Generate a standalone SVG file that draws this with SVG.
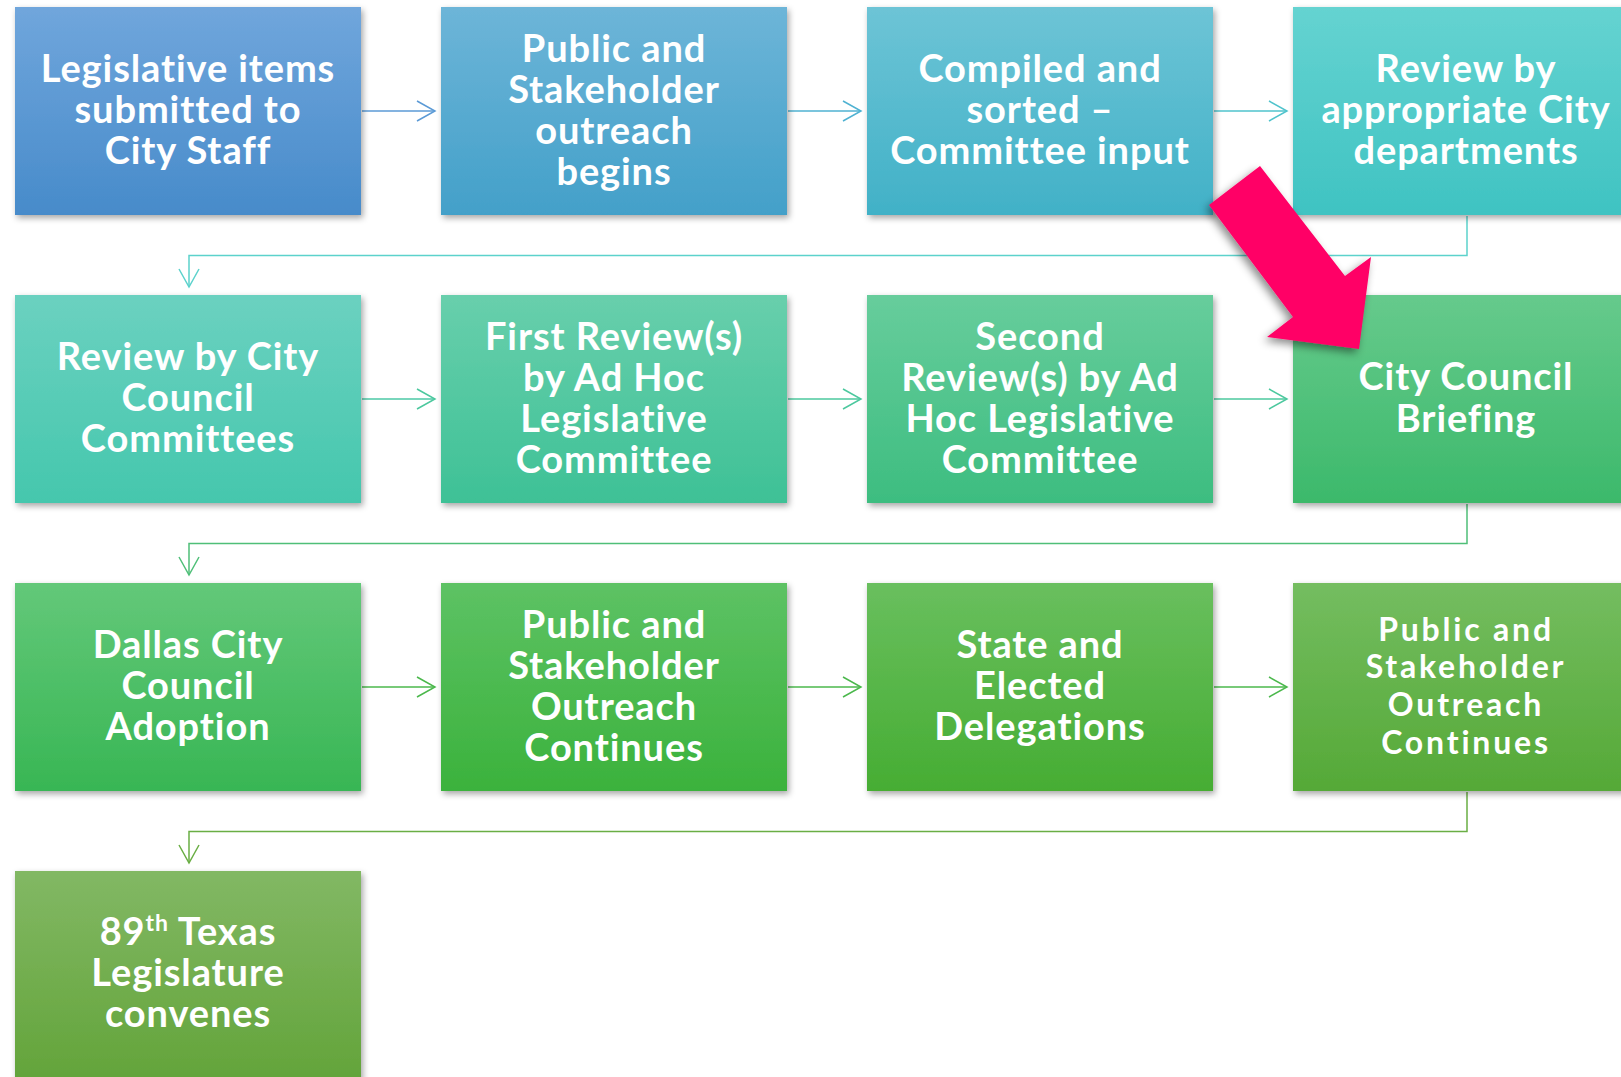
<svg xmlns="http://www.w3.org/2000/svg" width="1621" height="1077" viewBox="0 0 1621 1077">
<style>
.t{font-family:Lato,"Open Sans","DejaVu Sans",sans-serif;font-weight:700;font-size:38px;letter-spacing:0.9px;fill:#fff;text-anchor:middle}
.s{font-size:32px;letter-spacing:2.8px}
.c{fill:none;stroke-width:1.5}
</style>
<defs>
<filter id="sh" x="-10%" y="-10%" width="125%" height="125%"><feDropShadow dx="2" dy="3" stdDeviation="3" flood-color="#000" flood-opacity="0.35"/></filter>
<filter id="ash" x="-20%" y="-20%" width="150%" height="150%"><feDropShadow dx="-3" dy="4" stdDeviation="4" flood-color="#000" flood-opacity="0.45"/></filter>
<linearGradient id="g1" x1="0" y1="0" x2="0" y2="1"><stop offset="0" stop-color="#70a6dc"/><stop offset="1" stop-color="#478bca"/></linearGradient>
<linearGradient id="g2" x1="0" y1="0" x2="0" y2="1"><stop offset="0" stop-color="#6db5d8"/><stop offset="1" stop-color="#43a0c9"/></linearGradient>
<linearGradient id="g3" x1="0" y1="0" x2="0" y2="1"><stop offset="0" stop-color="#6dc4d6"/><stop offset="1" stop-color="#41b1c7"/></linearGradient>
<linearGradient id="g4" x1="0" y1="0" x2="0" y2="1"><stop offset="0" stop-color="#65d3d1"/><stop offset="1" stop-color="#3fc3c2"/></linearGradient>
<linearGradient id="g5" x1="0" y1="0" x2="0" y2="1"><stop offset="0" stop-color="#6bd1c0"/><stop offset="1" stop-color="#45c7ad"/></linearGradient>
<linearGradient id="g6" x1="0" y1="0" x2="0" y2="1"><stop offset="0" stop-color="#68cfac"/><stop offset="1" stop-color="#3ec196"/></linearGradient>
<linearGradient id="g7" x1="0" y1="0" x2="0" y2="1"><stop offset="0" stop-color="#67cd9c"/><stop offset="1" stop-color="#3dbd80"/></linearGradient>
<linearGradient id="g8" x1="0" y1="0" x2="0" y2="1"><stop offset="0" stop-color="#66ca8c"/><stop offset="1" stop-color="#3cb96b"/></linearGradient>
<linearGradient id="g9" x1="0" y1="0" x2="0" y2="1"><stop offset="0" stop-color="#63c879"/><stop offset="1" stop-color="#38b654"/></linearGradient>
<linearGradient id="g10" x1="0" y1="0" x2="0" y2="1"><stop offset="0" stop-color="#5dc264"/><stop offset="1" stop-color="#3bb23c"/></linearGradient>
<linearGradient id="g11" x1="0" y1="0" x2="0" y2="1"><stop offset="0" stop-color="#69bf5e"/><stop offset="1" stop-color="#46ad33"/></linearGradient>
<linearGradient id="g12" x1="0" y1="0" x2="0" y2="1"><stop offset="0" stop-color="#74bd60"/><stop offset="1" stop-color="#55a937"/></linearGradient>
<linearGradient id="g13" x1="0" y1="0" x2="0" y2="1"><stop offset="0" stop-color="#82b864"/><stop offset="1" stop-color="#63a43a"/></linearGradient>
<marker id="m1" markerUnits="userSpaceOnUse" markerWidth="22" markerHeight="24" viewBox="0 0 22 24" refX="19" refY="12" orient="auto"><path d="M1,2 L19,12 L1,22" fill="none" stroke="#5b9ad6" stroke-width="1.5"/></marker>
<marker id="m2" markerUnits="userSpaceOnUse" markerWidth="22" markerHeight="24" viewBox="0 0 22 24" refX="19" refY="12" orient="auto"><path d="M1,2 L19,12 L1,22" fill="none" stroke="#4fb2d2" stroke-width="1.5"/></marker>
<marker id="m3" markerUnits="userSpaceOnUse" markerWidth="22" markerHeight="24" viewBox="0 0 22 24" refX="19" refY="12" orient="auto"><path d="M1,2 L19,12 L1,22" fill="none" stroke="#4fc3cc" stroke-width="1.5"/></marker>
<marker id="m4" markerUnits="userSpaceOnUse" markerWidth="22" markerHeight="24" viewBox="0 0 22 24" refX="19" refY="12" orient="auto"><path d="M1,2 L19,12 L1,22" fill="none" stroke="#5cd2cc" stroke-width="1.5"/></marker>
<marker id="m5" markerUnits="userSpaceOnUse" markerWidth="22" markerHeight="24" viewBox="0 0 22 24" refX="19" refY="12" orient="auto"><path d="M1,2 L19,12 L1,22" fill="none" stroke="#4cc89e" stroke-width="1.5"/></marker>
<marker id="m6" markerUnits="userSpaceOnUse" markerWidth="22" markerHeight="24" viewBox="0 0 22 24" refX="19" refY="12" orient="auto"><path d="M1,2 L19,12 L1,22" fill="none" stroke="#4fbf78" stroke-width="1.5"/></marker>
<marker id="m7" markerUnits="userSpaceOnUse" markerWidth="22" markerHeight="24" viewBox="0 0 22 24" refX="19" refY="12" orient="auto"><path d="M1,2 L19,12 L1,22" fill="none" stroke="#4bb84c" stroke-width="1.5"/></marker>
<marker id="m8" markerUnits="userSpaceOnUse" markerWidth="22" markerHeight="24" viewBox="0 0 22 24" refX="19" refY="12" orient="auto"><path d="M1,2 L19,12 L1,22" fill="none" stroke="#6aae44" stroke-width="1.5"/></marker>
</defs>
<rect width="1621" height="1077" fill="#fff"/>
<g id="connectors">
<line class="c" x1="362" y1="111" x2="435" y2="111" stroke="#5b9ad6" marker-end="url(#m1)"/>
<line class="c" x1="788" y1="111" x2="861" y2="111" stroke="#4fb2d2" marker-end="url(#m2)"/>
<line class="c" x1="1214" y1="111" x2="1287" y2="111" stroke="#4fc3cc" marker-end="url(#m3)"/>
<path class="c" d="M1467,216 V255.5 H189 V287" stroke="#5cd2cc" marker-end="url(#m4)"/>
<line class="c" x1="362" y1="399" x2="435" y2="399" stroke="#4cc8a6" marker-end="url(#m5)"/>
<line class="c" x1="788" y1="399" x2="861" y2="399" stroke="#4cc89e" marker-end="url(#m5)"/>
<line class="c" x1="1214" y1="399" x2="1287" y2="399" stroke="#4cc89e" marker-end="url(#m5)"/>
<path class="c" d="M1467,504 V543.5 H189 V575" stroke="#4fbf78" marker-end="url(#m6)"/>
<line class="c" x1="362" y1="687" x2="435" y2="687" stroke="#4bb84c" marker-end="url(#m7)"/>
<line class="c" x1="788" y1="687" x2="861" y2="687" stroke="#4bb84c" marker-end="url(#m7)"/>
<line class="c" x1="1214" y1="687" x2="1287" y2="687" stroke="#4bb84c" marker-end="url(#m7)"/>
<path class="c" d="M1467,792 V831.5 H189 V863" stroke="#6aae44" marker-end="url(#m8)"/>
</g>
<g id="n1"><rect x="15" y="7" width="346" height="208" fill="url(#g1)" filter="url(#sh)"/><text class="t"><tspan x="188" y="82">Legislative items</tspan><tspan x="188" y="123">submitted to</tspan><tspan x="188" y="164">City Staff</tspan></text></g>
<g id="n2"><rect x="441" y="7" width="346" height="208" fill="url(#g2)" filter="url(#sh)"/><text class="t"><tspan x="614" y="62">Public and</tspan><tspan x="614" y="103">Stakeholder</tspan><tspan x="614" y="144">outreach</tspan><tspan x="614" y="185">begins</tspan></text></g>
<g id="n3"><rect x="867" y="7" width="346" height="208" fill="url(#g3)" filter="url(#sh)"/><text class="t"><tspan x="1040" y="82">Compiled and</tspan><tspan x="1040" y="123">sorted –</tspan><tspan x="1040" y="164">Committee input</tspan></text></g>
<g id="n4"><rect x="1293" y="7" width="346" height="208" fill="url(#g4)" filter="url(#sh)"/><text class="t"><tspan x="1466" y="82">Review by</tspan><tspan x="1466" y="123">appropriate City</tspan><tspan x="1466" y="164">departments</tspan></text></g>
<g id="n5"><rect x="15" y="295" width="346" height="208" fill="url(#g5)" filter="url(#sh)"/><text class="t"><tspan x="188" y="370">Review by City</tspan><tspan x="188" y="411">Council</tspan><tspan x="188" y="452">Committees</tspan></text></g>
<g id="n6"><rect x="441" y="295" width="346" height="208" fill="url(#g6)" filter="url(#sh)"/><text class="t"><tspan x="614" y="350">First Review(s)</tspan><tspan x="614" y="391">by Ad Hoc</tspan><tspan x="614" y="432">Legislative</tspan><tspan x="614" y="473">Committee</tspan></text></g>
<g id="n7"><rect x="867" y="295" width="346" height="208" fill="url(#g7)" filter="url(#sh)"/><text class="t"><tspan x="1040" y="350">Second</tspan><tspan x="1040" y="391">Review(s) by Ad</tspan><tspan x="1040" y="432">Hoc Legislative</tspan><tspan x="1040" y="473">Committee</tspan></text></g>
<g id="n8"><rect x="1293" y="295" width="346" height="208" fill="url(#g8)" filter="url(#sh)"/><text class="t"><tspan x="1466" y="390">City Council</tspan><tspan x="1466" y="432">Briefing</tspan></text></g>
<g id="n9"><rect x="15" y="583" width="346" height="208" fill="url(#g9)" filter="url(#sh)"/><text class="t"><tspan x="188" y="658">Dallas City</tspan><tspan x="188" y="699">Council</tspan><tspan x="188" y="740">Adoption</tspan></text></g>
<g id="n10"><rect x="441" y="583" width="346" height="208" fill="url(#g10)" filter="url(#sh)"/><text class="t"><tspan x="614" y="638">Public and</tspan><tspan x="614" y="679">Stakeholder</tspan><tspan x="614" y="720">Outreach</tspan><tspan x="614" y="761">Continues</tspan></text></g>
<g id="n11"><rect x="867" y="583" width="346" height="208" fill="url(#g11)" filter="url(#sh)"/><text class="t"><tspan x="1040" y="658">State and</tspan><tspan x="1040" y="699">Elected</tspan><tspan x="1040" y="740">Delegations</tspan></text></g>
<g id="n12"><rect x="1293" y="583" width="346" height="208" fill="url(#g12)" filter="url(#sh)"/><text class="t s"><tspan x="1466" y="641">Public and</tspan><tspan x="1466" y="678">Stakeholder</tspan><tspan x="1466" y="716">Outreach</tspan><tspan x="1466" y="754">Continues</tspan></text></g>
<g id="n13"><rect x="15" y="871" width="346" height="210" fill="url(#g13)" filter="url(#sh)"/><text class="t"><tspan x="188" y="945">89<tspan font-size="23" dy="-14">th</tspan><tspan dy="14"> Texas</tspan></tspan><tspan x="188" y="986">Legislature</tspan><tspan x="188" y="1027">convenes</tspan></text></g>
<g id="pink-arrow"><polygon points="1260,166 1345,276 1371,257 1359,349 1267,337 1293,317 1209,205" fill="#ff0066" filter="url(#ash)"/></g>
</svg>
